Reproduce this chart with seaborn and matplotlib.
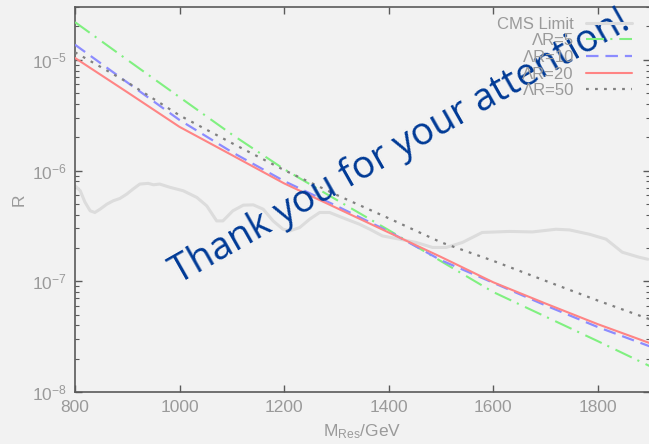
import matplotlib
matplotlib.use("Agg")
import matplotlib.pyplot as plt
import seaborn as sns

# Resonance mass grid for the model curves (GeV)
mass = [800, 900, 1000, 1100, 1200, 1300, 1400, 1500, 1600, 1700, 1800, 1900]

# Ratio R for each Lambda*R value
r_lr5 = [2.19e-5, 1.00e-5, 4.60e-6, 2.12e-6, 1.03e-6, 5.45e-7, 2.90e-7, 1.52e-7,
         8.0e-8, 4.8e-8, 2.88e-8, 1.71e-8]
r_lr10 = [1.37e-5, 6.25e-6, 2.86e-6, 1.47e-6, 8.04e-7, 4.80e-7, 2.82e-7, 1.55e-7,
          9.7e-8, 6.06e-8, 3.86e-8, 2.58e-8]
r_lr20 = [1.04e-5, 5.10e-6, 2.48e-6, 1.38e-6, 7.66e-7, 4.60e-7, 2.76e-7, 1.66e-7,
          9.8e-8, 6.3e-8, 4.1e-8, 2.76e-8]
r_lr50 = [1.17e-5, 6.28e-6, 3.15e-6, 1.77e-6, 1.01e-6, 6.04e-7, 3.71e-7, 2.25e-7,
          1.53e-7, 1.01e-7, 6.7e-8, 4.53e-8]

# Observed CMS limit
cms_mass = [800, 810, 819, 829, 838, 848, 861, 873, 886, 899, 911, 924, 940, 950,
            962, 982, 1007, 1033, 1052, 1071, 1083, 1102, 1122, 1141, 1160, 1179,
            1198, 1211, 1230, 1249, 1268, 1287, 1319, 1344, 1364, 1388, 1421, 1453,
            1484, 1510, 1541, 1579, 1631, 1675, 1720, 1746, 1784, 1816, 1847, 1879,
            1896]
cms_limit = [7.29e-7, 6.57e-7, 5.19e-7, 4.33e-7, 4.18e-7, 4.48e-7, 4.97e-7, 5.33e-7,
             5.60e-7, 6.13e-7, 6.80e-7, 7.55e-7, 7.66e-7, 7.44e-7, 7.55e-7, 7.05e-7,
             6.57e-7, 5.72e-7, 4.80e-7, 3.51e-7, 3.51e-7, 4.33e-7, 4.87e-7, 4.90e-7,
             4.48e-7, 3.51e-7, 2.95e-7, 2.85e-7, 3.06e-7, 3.64e-7, 4.18e-7, 4.18e-7,
             3.64e-7, 3.28e-7, 2.95e-7, 2.57e-7, 2.40e-7, 2.24e-7, 2.02e-7, 2.02e-7,
             2.24e-7, 2.76e-7, 2.82e-7, 2.79e-7, 2.95e-7, 2.91e-7, 2.66e-7, 2.40e-7,
             1.83e-7, 1.65e-7, 1.58e-7]

x_ticks = [800, 1000, 1200, 1400, 1600, 1800]
series_labels = ["CMS Limit", "\u039bR=5", "\u039bR=10", "\u039bR=20", "\u039bR=50"]
headline = "Thank you for your attention!"

sns.set_theme(style="ticks")
bg = "#f2f2f2"
txt = "#9a9a9a"
plt.rcParams["font.family"] = ["Liberation Sans", "DejaVu Sans"]
plt.rcParams["mathtext.fontset"] = "custom"
plt.rcParams["mathtext.rm"] = "Liberation Sans"
plt.rcParams["mathtext.it"] = "Liberation Sans"
plt.rcParams["lines.scale_dashes"] = False

fig = plt.figure(figsize=(6.49, 4.44), dpi=100, facecolor=bg)
ax = fig.add_axes([75 / 649, 52 / 444, 575 / 649, 385 / 444], facecolor=bg)

sns.lineplot(x=cms_mass, y=cms_limit, ax=ax, color="#dcdcdc", linewidth=2.2,
             label=series_labels[0], zorder=2)
sns.lineplot(x=mass, y=r_lr5, ax=ax, color="#80f080", linewidth=1.5,
             linestyle=(0, (13, 4.5, 1.5, 5)), label=series_labels[1], zorder=3)
sns.lineplot(x=mass, y=r_lr10, ax=ax, color="#8c8cff", linewidth=1.6,
             linestyle=(0, (9, 5)), label=series_labels[2], zorder=3)
sns.lineplot(x=mass, y=r_lr20, ax=ax, color="#ff8484", linewidth=1.5,
             label=series_labels[3], zorder=3)
sns.lineplot(x=mass, y=r_lr50, ax=ax, color="#808080", linewidth=1.6,
             linestyle=(0, (2, 4.5)), label=series_labels[4], zorder=3)

ax.set_yscale("log")
ax.set_xlim(800, 1900)
ax.set_ylim(1e-8, 3e-5)
ax.set_xticks(x_ticks)
ax.set_xticklabels([str(v) for v in x_ticks])
ax.xaxis.set_minor_locator(matplotlib.ticker.NullLocator())

for s in ax.spines.values():
    s.set_color("#5a5a5a")
    s.set_linewidth(1.2)
ax.tick_params(which="both", direction="in", top=True, right=True,
               colors="#5a5a5a", labelcolor=txt, labelsize=12.5)
ax.tick_params(which="major", length=5, width=1.0, pad=6)
ax.tick_params(which="minor", length=3, width=0.8)

ax.set_xlabel("M$_{\\mathrm{Res}}$/GeV", color=txt, fontsize=12.5, labelpad=5)
ax.set_ylabel("R", color=txt, fontsize=12.5, labelpad=4)

leg = ax.legend(loc="upper right", bbox_to_anchor=(0.969, 0.975), frameon=False,
                markerfirst=False, fontsize=12, handlelength=2.8, handletextpad=0.7,
                labelspacing=0.1, borderpad=0, borderaxespad=0)
for t in leg.get_texts():
    t.set_color(txt)

ax.text(0.566, 0.636, headline, transform=ax.transAxes, rotation=29.5,
        rotation_mode="anchor", ha="center", va="center", fontsize=27.5,
        color="#003a96", family=["Open Sans", "DejaVu Sans"], zorder=5)

fig.savefig("out.png", dpi=100, facecolor=bg)
